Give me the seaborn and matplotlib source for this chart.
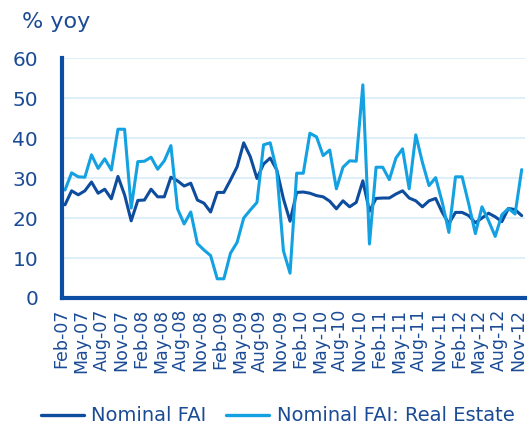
import matplotlib
matplotlib.use("Agg")
import matplotlib.pyplot as plt
import numpy as np
import pandas as pd
import seaborn as sns

MONTHS = pd.date_range("2007-02-01", "2012-11-01", freq="MS").strftime("%b-%y").tolist()

NOMINAL_FAI = [
    23.3, 26.8, 25.8, 26.8, 29.0, 26.2, 27.2, 24.8, 30.4, 25.8,
    19.3, 24.4, 24.5, 27.2, 25.3, 25.3, 30.2, 29.3, 28.0, 28.7,
    24.5, 23.7, 21.5, 26.4, 26.4, 29.5, 32.8, 38.8, 35.3, 29.9,
    33.5, 35.0, 32.0, 24.8, 19.2, 26.4, 26.5, 26.2, 25.6, 25.3,
    24.2, 22.3, 24.3, 22.8, 23.9, 29.3, 21.7, 24.9, 25.0, 25.0,
    26.0, 26.8, 25.0, 24.3, 22.8, 24.3, 24.9, 21.4, 18.6, 21.4,
    21.4, 20.6, 18.8, 20.0, 21.2, 20.3, 19.1, 22.4, 22.1, 20.6,
]

REAL_ESTATE = [
    27.0, 31.3, 30.3, 30.2, 35.8, 32.4, 34.8, 32.0, 42.2, 42.2,
    22.5, 34.1, 34.2, 35.2, 32.2, 34.3, 38.1, 22.3, 18.5, 21.5,
    13.6, 12.0, 10.6, 4.8, 4.8, 11.2, 13.9, 20.0, 22.0, 23.9,
    38.3, 38.8, 31.8, 11.8, 6.2, 31.2, 31.2, 41.2, 40.3, 35.6,
    37.0, 27.3, 32.7, 34.3, 34.2, 53.3, 13.5, 32.7, 32.7, 29.6,
    35.0, 37.3, 27.3, 40.8, 33.9, 28.1, 30.1, 23.9, 16.4, 30.3,
    30.3, 23.5, 16.1, 22.8, 19.3, 15.4, 20.8, 22.4, 21.0, 32.1,
]

SERIES_NAMES = ["Nominal FAI", "Nominal FAI: Real Estate"]

DARK = "#0E4C9E"
LIGHT = "#14A1E2"
AXIS = "#0D4DA3"
TEXT = "#1B4B95"
GRID = "#D8ECF8"

sns.set_style("white")
plt.rcParams["font.family"] = ["DejaVu Sans"]

idx = np.arange(len(MONTHS))
df = pd.DataFrame({
    "idx": np.concatenate([idx, idx]),
    "value": NOMINAL_FAI + REAL_ESTATE,
    "series": [SERIES_NAMES[0]] * len(idx) + [SERIES_NAMES[1]] * len(idx),
})

fig = plt.figure(figsize=(5.31, 4.30), dpi=100)
ax = fig.add_axes([0.1162, 0.307, 0.8725, 0.558])

sns.lineplot(
    data=df, x="idx", y="value", hue="series",
    palette={SERIES_NAMES[0]: DARK, SERIES_NAMES[1]: LIGHT},
    hue_order=SERIES_NAMES, linewidth=2.2, ax=ax, legend=False,
)

ax.set_xlim(-0.5, len(MONTHS) - 0.5)
ax.set_ylim(0, 60)
ax.set_yticks(np.arange(0, 61, 10))
ax.yaxis.grid(True, color=GRID, linewidth=1.2)
ax.set_axisbelow(True)

tick_pos = np.arange(0, len(MONTHS), 3) - 0.5
ax.set_xticks(tick_pos)
ax.set_xticklabels(MONTHS[::3], rotation=90, fontsize=12.5, color=TEXT)
ax.tick_params(axis="y", labelsize=14.5, length=5, width=2, pad=12, color=AXIS)
ax.tick_params(axis="x", length=5, width=1.6, color=AXIS, pad=3)
for lbl in ax.get_xticklabels() + ax.get_yticklabels():
    lbl.set_color(TEXT)

for side in ["top", "right"]:
    ax.spines[side].set_visible(False)
for side in ["left", "bottom"]:
    ax.spines[side].set_color(AXIS)
    ax.spines[side].set_linewidth(3)

ax.set_xlabel("")
ax.set_ylabel("")

fig.text(0.041, 0.972, "% yoy", fontsize=16, color=TEXT, va="top")

handles = [
    plt.Line2D([], [], color=DARK, linewidth=2.4),
    plt.Line2D([], [], color=LIGHT, linewidth=2.4),
]
fig.legend(handles, SERIES_NAMES, loc="lower center", bbox_to_anchor=(0.523, -0.03),
           ncol=2, frameon=False, fontsize=14, handlelength=2.2, columnspacing=1.0,
           handletextpad=0.4, labelcolor=TEXT)

fig.savefig("out.png", dpi=100)
